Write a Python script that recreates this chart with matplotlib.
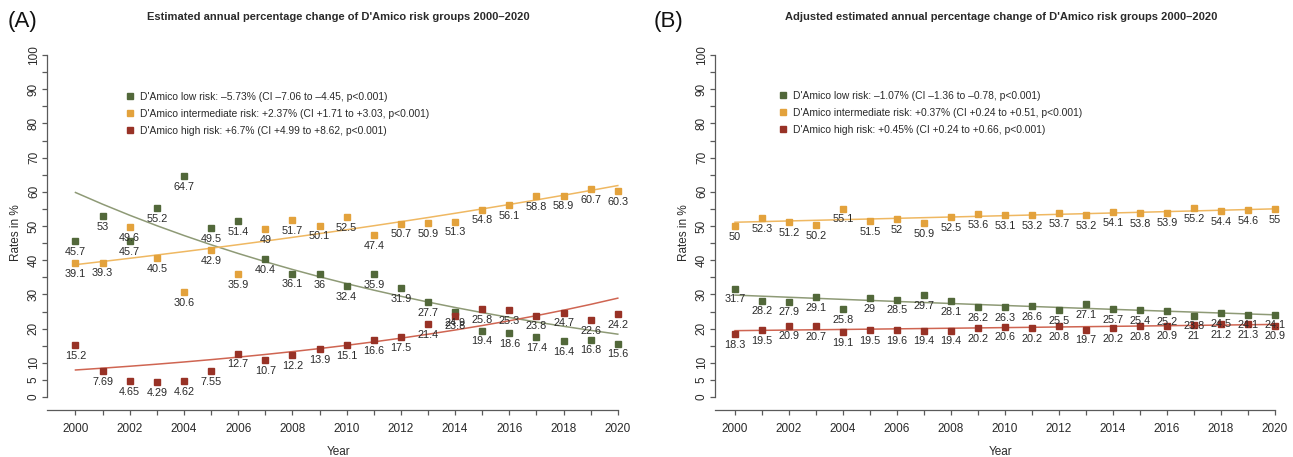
import numpy as np
import matplotlib
matplotlib.use("Agg")
import matplotlib.pyplot as plt

plt.rcParams['font.family'] = ['Liberation Sans', 'DejaVu Sans']

years = list(range(2000, 2021))

# Panel A: crude rates (%)
a_low = [45.7, 53, 45.7, 55.2, 64.7, 49.5, 51.4, 40.4, 36.1, 36, 32.4, 35.9, 31.9,
         27.7, 24.9, 19.4, 18.6, 17.4, 16.4, 16.8, 15.6]
a_int = [39.1, 39.3, 49.6, 40.5, 30.6, 42.9, 35.9, 49, 51.7, 50.1, 52.5, 47.4, 50.7,
         50.9, 51.3, 54.8, 56.1, 58.8, 58.9, 60.7, 60.3]
a_high = [15.2, 7.69, 4.65, 4.29, 4.62, 7.55, 12.7, 10.7, 12.2, 13.9, 15.1, 16.6, 17.5,
          21.4, 23.8, 25.8, 25.3, 23.8, 24.7, 22.6, 24.2]

# Panel B: adjusted rates (%)
b_low = [31.7, 28.2, 27.9, 29.1, 25.8, 29, 28.5, 29.7, 28.1, 26.2, 26.3, 26.6, 25.5,
         27.1, 25.7, 25.4, 25.2, 23.8, 24.5, 24.1, 24.1]
b_int = [50, 52.3, 51.2, 50.2, 55.1, 51.5, 52, 50.9, 52.5, 53.6, 53.1, 53.2, 53.7,
         53.2, 54.1, 53.8, 53.9, 55.2, 54.4, 54.6, 55]
b_high = [18.3, 19.5, 20.9, 20.7, 19.1, 19.5, 19.6, 19.4, 19.4, 20.2, 20.6, 20.2, 20.8,
          19.7, 20.2, 20.8, 20.9, 21, 21.2, 21.3, 20.9]

# Estimated annual percentage change and fitted value in 2000 for each trend
a_apc = [-5.73, 2.37, 6.7]
a_start = [59.8, 38.7, 7.9]
b_apc = [-1.07, 0.37, 0.45]
b_start = [29.8, 51.1, 19.4]

a_legend = ["D'Amico low risk: \u20135.73% (CI \u20137.06 to \u20134.45, p<0.001)",
            "D'Amico intermediate risk: +2.37% (CI +1.71 to +3.03, p<0.001)",
            "D'Amico high risk: +6.7% (CI +4.99 to +8.62, p<0.001)"]
b_legend = ["D'Amico low risk: \u20131.07% (CI \u20131.36 to \u20130.78, p<0.001)",
            "D'Amico intermediate risk: +0.37% (CI +0.24 to +0.51, p<0.001)",
            "D'Amico high risk: +0.45% (CI +0.24 to +0.66, p<0.001)"]

a_title = "Estimated annual percentage change of D'Amico risk groups 2000\u20132020"
b_title = "Adjusted estimated annual percentage change of D'Amico risk groups 2000\u20132020"

marker_colors = ['#52683a', '#e3a23c', '#983226']
line_colors = ['#8e9a76', '#efb862', '#cf6552']

W, H = 1293, 457
fig = plt.figure(figsize=(W / 100, H / 100), dpi=100)

axis_col = '#5a5a5a'
text_col = '#2a2a2a'


def px_axes(left, right, top, bottom):
    return fig.add_axes([left / W, (H - bottom) / H, (right - left) / W, (bottom - top) / H])


def draw_panel(ax, series, apcs, starts, labels, title, xleft, legend_xy):
    yrs = np.array(years)
    for vals, apc, s0, mc, lc, lab in zip(series, apcs, starts, marker_colors, line_colors, labels):
        trend = s0 * (1 + apc / 100.0) ** (yrs - 2000)
        ax.plot(yrs, trend, color=lc, lw=1.1, zorder=2)
        ax.plot(yrs, vals, 's', ms=4.6, color=mc, zorder=3, label=lab, clip_on=False)
        for x, v in zip(years, vals):
            ax.annotate(f"{v:g}", (x, v), xytext=(0, -4.2), textcoords='offset points',
                        ha='center', va='top', fontsize=7.8, color=text_col, zorder=4)
    ax.set_xlim(xleft, 2020.45)
    ax.set_ylim(-3.8, 100)
    for s in ['top', 'right']:
        ax.spines[s].set_visible(False)
    ax.spines['left'].set_bounds(0, 100)
    ax.spines['bottom'].set_bounds(xleft, 2020)
    for s in ['left', 'bottom']:
        ax.spines[s].set_color(axis_col)
        ax.spines[s].set_linewidth(0.9)
    yt = list(range(0, 101, 5))
    ax.set_yticks(yt)
    ax.set_yticklabels([str(t) if (t % 10 == 0 or t == 5) else '' for t in yt],
                       rotation=90, va='center')
    ax.set_xticks(years)
    ax.set_xticklabels([str(y) if y % 2 == 0 else '' for y in years])
    ax.tick_params(axis='both', direction='out', length=3.6, width=0.9, color=axis_col,
                   labelsize=8.5, labelcolor=text_col)
    ax.tick_params(axis='x', pad=5.5)
    ax.tick_params(axis='y', pad=1.5)
    ax.set_xlabel('Year', fontsize=8.5, color=text_col, labelpad=8.5)
    ax.set_ylabel('Rates in %', fontsize=8.5, color=text_col, labelpad=4)
    ax.set_title(title, fontsize=8.0, fontweight='bold', color=text_col, pad=25)
    ax.legend(loc='upper left', bbox_to_anchor=(legend_xy[0] / W, (H - legend_xy[1]) / H),
              bbox_transform=fig.transFigure, frameon=False, fontsize=7.4, handlelength=0.8,
              handletextpad=0.55, borderpad=0, borderaxespad=0, labelspacing=0.68,
              markerscale=0.8, labelcolor=text_col)


ax_a = px_axes(47, 630, 55, 410)
draw_panel(ax_a, [a_low, a_int, a_high], a_apc, a_start, a_legend, a_title, 1998.95, (126, 92))

ax_b = px_axes(715, 1287, 55, 410)
draw_panel(ax_b, [b_low, b_int, b_high], b_apc, b_start, b_legend, b_title, 1999.26, (779, 91))

fig.text(8 / W, (H - 22) / H, '(A)', fontsize=16, color='#111111', va='center', ha='left')
fig.text(654 / W, (H - 22) / H, '(B)', fontsize=16, color='#111111', va='center', ha='left')

fig.savefig('out.png', dpi=100)
